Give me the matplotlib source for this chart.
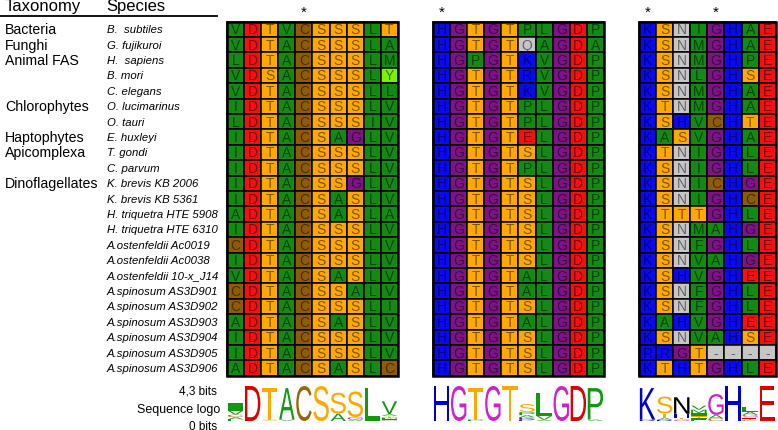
import numpy as np
import matplotlib.pyplot as plt
from matplotlib.patches import Rectangle, PathPatch
from matplotlib.textpath import TextPath
from matplotlib.font_manager import FontProperties
from matplotlib.transforms import Affine2D

plt.rcParams['font.family'] = 'Liberation Sans'

# --- data ---
taxonomy = ['Bacteria', 'Funghi', 'Animal FAS', '', '', 'Chlorophytes', '', 'Haptophytes',
            'Apicomplexa', '', 'Dinoflagellates'] + [''] * 12
species = ['B.  subtiles', 'G. fujikuroi', 'H.  sapiens', 'B. mori', 'C. elegans',
           'O. lucimarinus', 'O. tauri', 'E. huxleyi', 'T. gondi', 'C. parvum',
           'K. brevis KB 2006', 'K. brevis KB 5361', 'H. triquetra HTE 5908',
           'H. triquetra HTE 6310', 'A.ostenfeldii Ac0019', 'A.ostenfeldii Ac0038',
           'A.ostenfeldii 10-x_J14', 'A.spinosum AS3D901', 'A.spinosum AS3D902',
           'A.spinosum AS3D903', 'A.spinosum AS3D904', 'A.spinosum AS3D905',
           'A.spinosum AS3D906']

block1 = ['VDTVCSSSLT', 'VDTACSSSLA', 'LDTACSSSLM', 'VDSACSSSLY', 'VDTACSSSLL',
          'IDTACSSSLV', 'LDTACSSSIV', 'IDTACSAGLV', 'IDTACSSSLV', 'IDTACSSSLV',
          'IDTACSSGLV', 'IDTACSASLV', 'ADTACSASLA', 'IDTACSSSLV', 'CDTACSSSLV',
          'IDTACSSSLV', 'VDTACSASLV', 'CDTACSSALV', 'CDTACSSSLI', 'ADTACSASLV',
          'IDTACSSSLV', 'IDTACSSSLV', 'ADTACSASLC']
block2 = ['HGTGTPLGDP', 'HGTGTQAGDA', 'HGPGTKVGDP', 'HGTGTRVGDP', 'HGTGTKVGDP',
          'HGTGTPLGDP', 'HGTGTPLGDP', 'HGTGTELGDP', 'HGTGTSLGDP', 'HGTGTPLGDP',
          'HGTGTSLGDP', 'HGTGTSLGDP', 'HGTGTSLGDP', 'HGTGTSLGDP', 'HGTGTSLGDP',
          'HGTGTSLGDP', 'HGTGTALGDP', 'HGTGTALGDP', 'HGTGTSLGDP', 'HGTGTALGDP',
          'HGTGTSLGDP', 'HGTGTSLGDP', 'HGTGTSLGDP']
block3 = ['KSNIGHAE', 'KSNMGHAE', 'KSNMGHPE', 'KSNLGHSE', 'KSNMGHAE', 'KTNMGHAE',
          'KSHVCHTE', 'KASVGHAE', 'KTNIGHLE', 'KSNIGHLE', 'KSNICHGE', 'KSNIGHCE',
          'KTTTGHLE', 'KSNMAHGE', 'KSNFGHLE', 'KSNVAHGE', 'KSHVGHEE', 'KSNFGHLE',
          'KSNFGHLE', 'KAHVGHEE', 'KSNVAHSE', 'RRGT----', 'KTHTGHLE']
blocks = [block1, block2, block3]
stars = [[4], [0], [0, 4]]   # marked columns per block

# colours
cell_col = {}
for aa in 'AVILMFP':
    cell_col[aa] = '#148a14'
for aa in 'ST':
    cell_col[aa] = '#ffa800'
for aa in 'DE':
    cell_col[aa] = '#f21010'
for aa in 'HKR':
    cell_col[aa] = '#0a0af2'
for aa in 'NQ-':
    cell_col[aa] = '#c6c6c6'
cell_col['C'] = '#8f5c06'
cell_col['G'] = '#7c1486'
cell_col['Y'] = '#80f000'

logo_col = dict(cell_col)
logo_col.update({'G': '#cc22cc', 'N': '#000000', 'Q': '#000000', 'D': '#dd0000',
                 'E': '#dd0000', 'C': '#9a6500', 'H': '#0000cc', 'K': '#0000cc',
                 'R': '#0000cc'})
for aa in 'AVILMFP':
    logo_col[aa] = '#119911'

# --- figure ---
fig = plt.figure(figsize=(7.78, 4.31), dpi=100)
ax = fig.add_axes([0, 0, 1, 1])
ax.set_xlim(0, 778)
ax.set_ylim(431, 0)
ax.axis('off')

top, rh, cw = 22.5, 15.4, 17.1
block_x = [227, 433, 639]

# headers
ax.text(5, 7, 'Taxonomy', fontsize=12, va='center')
ax.text(106, 7, 'Species', fontsize=12, va='center')
ax.plot([0, 217], [17, 17], color='black', lw=1.3)

for i, (tx, sp) in enumerate(zip(taxonomy, species)):
    yc = top + (i + 0.5) * rh
    if tx:
        ax.text(5, yc, tx, fontsize=10.2, va='center')
    ax.text(107, yc, sp, fontsize=8.2, style='italic', va='center')

# alignment cells
for bx, seqs, st in zip(block_x, blocks, stars):
    ncol = len(seqs[0])
    for i, s in enumerate(seqs):
        for j, aa in enumerate(s):
            ax.add_patch(Rectangle((bx + j * cw, top + i * rh), cw, rh,
                                   facecolor=cell_col[aa], edgecolor='black', lw=1.1))
            ax.text(bx + (j + 0.5) * cw, top + (i + 0.5) * rh, aa, ha='center',
                    va='center', fontsize=10, color='black', alpha=0.5)
    ax.add_patch(Rectangle((bx, top), ncol * cw, len(seqs) * rh, fill=False,
                           edgecolor='black', lw=1.8))
    for j in st:
        ax.text(bx + (j + 0.5) * cw, 13, '*', ha='center', va='center', fontsize=11)

# sequence logo
fp = FontProperties(family='Liberation Sans')


def draw_letter(ch, x, y, w, h, color):
    tp = TextPath((0, 0), ch, size=1, prop=fp)
    ext = tp.get_extents()
    tr = Affine2D().translate(-ext.x0, -ext.y0).scale(w / ext.width, -h / ext.height).translate(x, y)
    ax.add_patch(PathPatch(tr.transform_path(tp), facecolor=color, edgecolor='none'))


base, full = 422, 35.0
maxbits = np.log2(20)
for bx, seqs in zip(block_x, blocks):
    for j in range(len(seqs[0])):
        col = [s[j] for s in seqs if s[j] != '-']
        letters, counts = np.unique(col, return_counts=True)
        p = counts / counts.sum()
        ic = maxbits + np.sum(p * np.log2(p))
        y = base
        for k in np.argsort(p, kind='stable'):
            h = p[k] * ic / maxbits * full
            if h < 0.3:
                continue
            draw_letter(letters[k], bx + j * cw + 0.05 * cw, y, 0.9 * cw, h, logo_col[letters[k]])
            y -= h

ax.text(217, 392, '4,3 bits', fontsize=8.5, ha='right', va='center')
ax.text(220, 410, 'Sequence logo', fontsize=9, ha='right', va='center')
ax.text(217, 427, '0 bits', fontsize=8.5, ha='right', va='center')

fig.savefig('out.png', dpi=100)
